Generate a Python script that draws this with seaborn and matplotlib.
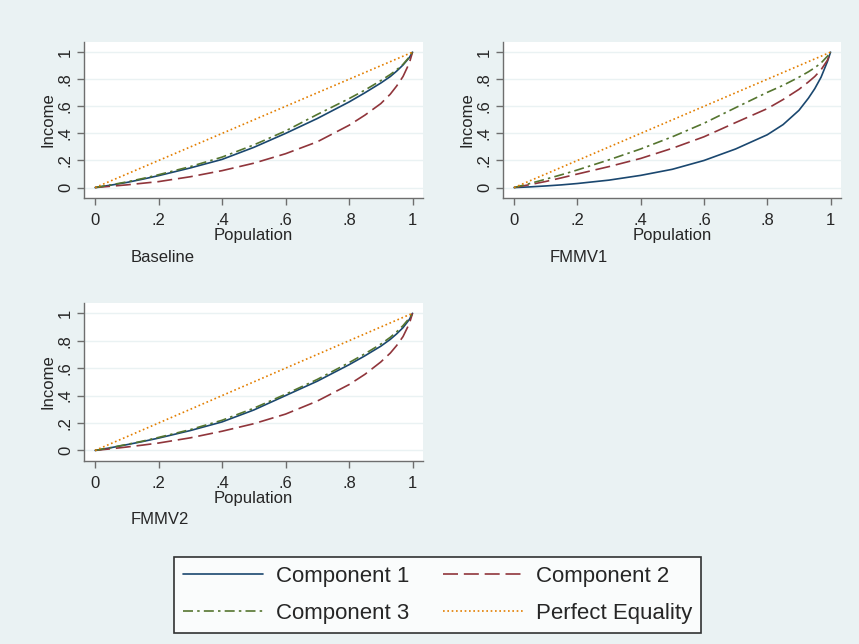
import numpy as np
import pandas as pd
import matplotlib
matplotlib.use("Agg")
import matplotlib.pyplot as plt
import seaborn as sns
from matplotlib.lines import Line2D

# Lorenz curves: cumulative population share vs cumulative income share
population = [0.0, 0.05, 0.1, 0.15, 0.2, 0.3, 0.4, 0.5, 0.6, 0.7, 0.8, 0.85, 0.9, 0.93, 0.95, 0.97, 0.99, 1.0]

baseline_c1 = [0.0, 0.018, 0.038, 0.062, 0.088, 0.145, 0.208, 0.297, 0.400, 0.510, 0.632, 0.700, 0.772, 0.820, 0.860, 0.905, 0.960, 1.0]
baseline_c2 = [0.0, 0.010, 0.020, 0.032, 0.044, 0.080, 0.125, 0.180, 0.250, 0.338, 0.460, 0.535, 0.620, 0.690, 0.750, 0.820, 0.920, 1.0]
baseline_c3 = [0.0, 0.020, 0.042, 0.067, 0.095, 0.155, 0.225, 0.315, 0.418, 0.540, 0.657, 0.720, 0.790, 0.835, 0.870, 0.910, 0.965, 1.0]

fmmv1_c1 = [0.0, 0.005, 0.012, 0.020, 0.030, 0.055, 0.090, 0.135, 0.200, 0.285, 0.390, 0.465, 0.570, 0.660, 0.730, 0.815, 0.930, 1.0]
fmmv1_c2 = [0.0, 0.022, 0.045, 0.072, 0.100, 0.155, 0.215, 0.290, 0.375, 0.480, 0.583, 0.650, 0.725, 0.780, 0.820, 0.870, 0.940, 1.0]
fmmv1_c3 = [0.0, 0.030, 0.062, 0.095, 0.130, 0.205, 0.285, 0.375, 0.475, 0.590, 0.703, 0.755, 0.815, 0.855, 0.885, 0.920, 0.970, 1.0]

fmmv2_c1 = [0.0, 0.020, 0.042, 0.065, 0.090, 0.145, 0.208, 0.295, 0.400, 0.505, 0.625, 0.690, 0.760, 0.810, 0.850, 0.895, 0.955, 1.0]
fmmv2_c2 = [0.0, 0.012, 0.025, 0.039, 0.054, 0.092, 0.140, 0.195, 0.265, 0.360, 0.480, 0.555, 0.645, 0.710, 0.765, 0.830, 0.925, 1.0]
fmmv2_c3 = [0.0, 0.021, 0.044, 0.068, 0.095, 0.152, 0.220, 0.308, 0.410, 0.518, 0.640, 0.705, 0.775, 0.825, 0.865, 0.910, 0.965, 1.0]

equality = [0.0, 0.05, 0.1, 0.15, 0.2, 0.3, 0.4, 0.5, 0.6, 0.7, 0.8, 0.85, 0.9, 0.93, 0.95, 0.97, 0.99, 1.0]

panels = ["Baseline", "FMMV1", "FMMV2"]
series_names = ["Component 1", "Component 2", "Component 3", "Perfect Equality"]
panel_values = {
    "Baseline": [baseline_c1, baseline_c2, baseline_c3, equality],
    "FMMV1": [fmmv1_c1, fmmv1_c2, fmmv1_c3, equality],
    "FMMV2": [fmmv2_c1, fmmv2_c2, fmmv2_c3, equality],
}

ticks = [0, 0.2, 0.4, 0.6, 0.8, 1.0]
tick_labels = ["0", ".2", ".4", ".6", ".8", "1"]

rows = []
for p in panels:
    for name, vals in zip(series_names, panel_values[p]):
        for x, y in zip(population, vals):
            rows.append({"panel": p, "series": name, "Population": x, "Income": y})
df = pd.DataFrame(rows)

bg = "#EAF2F3"
palette = {
    "Component 1": "#1A476F",
    "Component 2": "#90353B",
    "Component 3": "#55752F",
    "Perfect Equality": "#E37E00",
}
dashes = {
    "Component 1": "",
    "Component 2": (9, 3.5),
    "Component 3": (6, 2.5, 1.5, 2.5),
    "Perfect Equality": (1, 1.6),
}

sns.set_style("white")
plt.rcParams["font.family"] = ["Liberation Sans", "DejaVu Sans"]

fig = plt.figure(figsize=(8.59, 6.44), dpi=100, facecolor=bg)

W, H = 859, 644
# pixel boxes (left, top, right, bottom) of each panel's plot region
boxes = {
    "Baseline": (84, 42, 423, 198),
    "FMMV1": (503, 42, 841, 198),
    "FMMV2": (84, 303, 423, 461),
}
notes = {
    "Baseline": (131, 257),
    "FMMV1": (550, 258),
    "FMMV2": (131, 520),
}

for p in panels:
    l, t, r, b = boxes[p]
    ax = fig.add_axes([l / W, 1 - b / H, (r - l) / W, (b - t) / H])
    ax.set_facecolor("white")
    sub = df[df["panel"] == p]
    sns.lineplot(data=sub, x="Population", y="Income", hue="series", style="series",
                 palette=palette, dashes=dashes, hue_order=series_names,
                 style_order=series_names, linewidth=1.2, ax=ax, legend=False,
                 estimator=None, sort=False)
    ax.set_xlim(-0.035, 1.033)
    ax.set_ylim(-0.077, 1.075)
    ax.set_xticks(ticks)
    ax.set_xticklabels(tick_labels)
    ax.set_yticks(ticks)
    ax.set_yticklabels(tick_labels, rotation=90, va="center")
    ax.grid(axis="y", color=bg, linewidth=1.0)
    ax.set_axisbelow(True)
    for s in ["top", "right"]:
        ax.spines[s].set_visible(False)
    for s in ["left", "bottom"]:
        ax.spines[s].set_color("#6E6E6E")
        ax.spines[s].set_linewidth(1.0)
    ax.tick_params(axis="both", direction="out", length=5, width=1.0,
                   color="#6E6E6E", labelsize=12, left=True, bottom=True)
    ax.tick_params(axis="x", pad=6)
    ax.tick_params(axis="y", pad=3)
    ax.set_xlabel("Population", fontsize=12, labelpad=0)
    ax.set_ylabel("Income", fontsize=12, labelpad=2)
    nx, ny = notes[p]
    fig.text(nx / W, 1 - ny / H, p, fontsize=12, ha="left", va="center")

handles = {}
for name in series_names:
    h = Line2D([0], [0], color=palette[name], linewidth=1.2)
    if dashes[name]:
        h.set_dashes(dashes[name])
    handles[name] = h
order = ["Component 1", "Component 3", "Component 2", "Perfect Equality"]
leg = fig.legend([handles[n] for n in order], order, ncol=2,
                 loc="center", bbox_to_anchor=(437.5 / W, 1 - 595 / H),
                 fontsize=16, frameon=True, fancybox=False, handlelength=3.6,
                 columnspacing=1.5, handletextpad=0.6, labelspacing=0.7,
                 borderpad=0.4)
leg.get_frame().set_edgecolor("black")
leg.get_frame().set_linewidth(1.2)
leg.get_frame().set_facecolor("white")

fig.savefig("out.png", dpi=100, facecolor=bg)
